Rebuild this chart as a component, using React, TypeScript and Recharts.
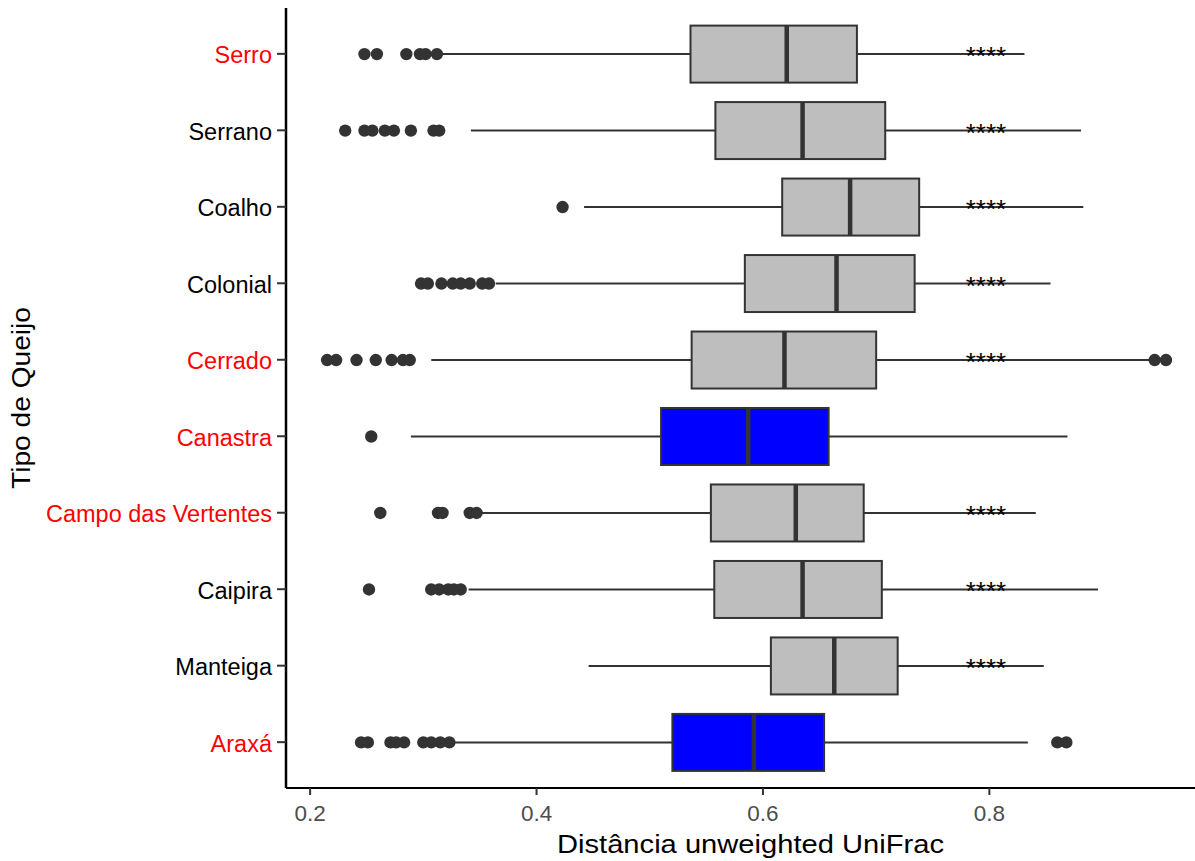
import React from "react";
import { ComposedChart, Bar, XAxis, YAxis, Label } from "recharts";

// cheese types, top to bottom
const categories = [
  "Serro",
  "Serrano",
  "Coalho",
  "Colonial",
  "Cerrado",
  "Canastra",
  "Campo das Vertentes",
  "Caipira",
  "Manteiga",
  "Araxá",
];

// five-number summaries of the unweighted UniFrac distances
const whiskerLow = [0.313, 0.342, 0.442, 0.364, 0.307, 0.289, 0.35, 0.34, 0.446, 0.324];
const q1 = [0.536, 0.558, 0.617, 0.584, 0.537, 0.51, 0.554, 0.557, 0.607, 0.52];
const median = [0.621, 0.635, 0.677, 0.665, 0.619, 0.587, 0.629, 0.635, 0.663, 0.592];
const q3 = [0.683, 0.708, 0.738, 0.734, 0.7, 0.658, 0.689, 0.705, 0.719, 0.654];
const whiskerHigh = [0.831, 0.881, 0.883, 0.854, 0.941, 0.869, 0.841, 0.896, 0.848, 0.834];

const outliers = [
  [0.248, 0.259, 0.285, 0.297, 0.302, 0.312],
  [0.231, 0.248, 0.255, 0.266, 0.274, 0.289, 0.309, 0.314],
  [0.423],
  [0.298, 0.304, 0.316, 0.326, 0.333, 0.341, 0.352, 0.358],
  [0.215, 0.223, 0.241, 0.258, 0.272, 0.282, 0.288, 0.946, 0.956],
  [0.254],
  [0.262, 0.313, 0.317, 0.341, 0.347],
  [0.252, 0.307, 0.314, 0.322, 0.327, 0.333],
  [],
  [0.245, 0.251, 0.271, 0.276, 0.283, 0.3, 0.307, 0.315, 0.323, 0.86, 0.868],
];

// significance vs. reference groups
const significance = ["****", "****", "****", "****", "****", "", "****", "****", "****", ""];
const SIG_AT = 0.797;

const xTicks = [0.2, 0.4, 0.6, 0.8];

// styling
const RED_LABELS = ["Serro", "Cerrado", "Canastra", "Campo das Vertentes", "Araxá"];
const BLUE_BOXES = ["Canastra", "Araxá"];
const FONT = "'Liberation Sans', Arial, Helvetica, sans-serif";
const INK = "#333333";

const rows = categories.map((name, i) => ({
  name,
  whisker: [whiskerLow[i], whiskerHigh[i]],
  q1: q1[i],
  median: median[i],
  q3: q3[i],
  outliers: outliers[i],
  sig: significance[i],
}));

// draws whisker, box, median, outliers and the stars for one row
function BoxShape(props: any) {
  const { x, y, width, height, payload } = props;
  const [lo, hi] = payload.whisker;
  const px = (v: number) => x + ((v - lo) / (hi - lo)) * width;
  const cy = y + height / 2;
  const fill = BLUE_BOXES.includes(payload.name) ? "#0000FF" : "#BEBEBE";
  return (
    <g>
      <line x1={px(lo)} x2={px(payload.q1)} y1={cy} y2={cy} stroke={INK} strokeWidth={2} />
      <line x1={px(payload.q3)} x2={px(hi)} y1={cy} y2={cy} stroke={INK} strokeWidth={2} />
      <rect
        x={px(payload.q1)}
        y={y}
        width={px(payload.q3) - px(payload.q1)}
        height={height}
        fill={fill}
        stroke={INK}
        strokeWidth={2}
      />
      <line
        x1={px(payload.median)}
        x2={px(payload.median)}
        y1={y}
        y2={y + height}
        stroke={INK}
        strokeWidth={4.5}
      />
      {payload.outliers.map((v: number, k: number) => (
        <circle key={k} cx={px(v)} cy={cy} r={6.2} fill={INK} />
      ))}
      {payload.sig && (
        <text
          x={px(SIG_AT)}
          y={cy + 11}
          textAnchor="middle"
          fontSize={26}
          fontFamily={FONT}
          fill="#000"
        >
          {payload.sig}
        </text>
      )}
    </g>
  );
}

function CategoryTick(props: any) {
  const { x, y, payload } = props;
  const red = RED_LABELS.includes(payload.value);
  return (
    <text
      x={x}
      y={y}
      dy="0.4em"
      textAnchor="end"
      fontSize={23.5}
      fontFamily={FONT}
      fill={red ? "#FF0000" : "#000000"}
    >
      {payload.value}
    </text>
  );
}

function XTitle(props: any) {
  const { viewBox } = props;
  return (
    <text
      x={viewBox.x + viewBox.width / 2}
      y={viewBox.y + 65}
      textAnchor="middle"
      fontSize={26}
      fontFamily={FONT}
      fill="#000"
      textLength={387}
      lengthAdjust="spacingAndGlyphs"
    >
      Distância unweighted UniFrac
    </text>
  );
}

function YTitle(props: any) {
  const { viewBox } = props;
  const cx = viewBox.x + 30;
  const cy = viewBox.y + viewBox.height / 2;
  return (
    <text
      x={cx}
      y={cy}
      transform={`rotate(-90, ${cx}, ${cy})`}
      textAnchor="middle"
      fontSize={25}
      fontFamily={FONT}
      fill="#000"
      textLength={182}
      lengthAdjust="spacingAndGlyphs"
    >
      Tipo de Queijo
    </text>
  );
}

export default function App() {
  return (
    <div
      style={{
        position: "absolute",
        left: 0,
        top: 0,
        width: 1195,
        height: 861,
        overflow: "hidden",
        background: "#fff",
      }}
    >
      <ComposedChart
        layout="vertical"
        width={1215}
        height={861}
        data={rows}
        margin={{ top: 8, right: 0, bottom: 0, left: 0 }}
      >
        <XAxis
          type="number"
          domain={[0.1787, 0.9993]}
          allowDataOverflow
          ticks={xTicks}
          tickFormatter={(v: number) => v.toFixed(1)}
          height={73}
          axisLine={{ stroke: "#000", strokeWidth: 2 }}
          tickLine={{ stroke: INK, strokeWidth: 2 }}
          tickSize={7}
          tickMargin={10}
          tick={{ fill: "#4D4D4D", fontSize: 22.5, fontFamily: FONT }}
        >
          <Label content={<XTitle />} />
        </XAxis>
        <YAxis
          type="category"
          dataKey="name"
          width={286}
          interval={0}
          padding={{ top: 7.6, bottom: 7.6 }}
          axisLine={{ stroke: "#000", strokeWidth: 2.5 }}
          tickLine={{ stroke: INK, strokeWidth: 2 }}
          tickSize={9}
          tickMargin={5}
          tick={<CategoryTick />}
        >
          <Label content={<YTitle />} />
        </YAxis>
        <Bar
          dataKey="whisker"
          barSize={57}
          isAnimationActive={false}
          shape={(p: any) => <BoxShape {...p} />}
        />
      </ComposedChart>
    </div>
  );
}
